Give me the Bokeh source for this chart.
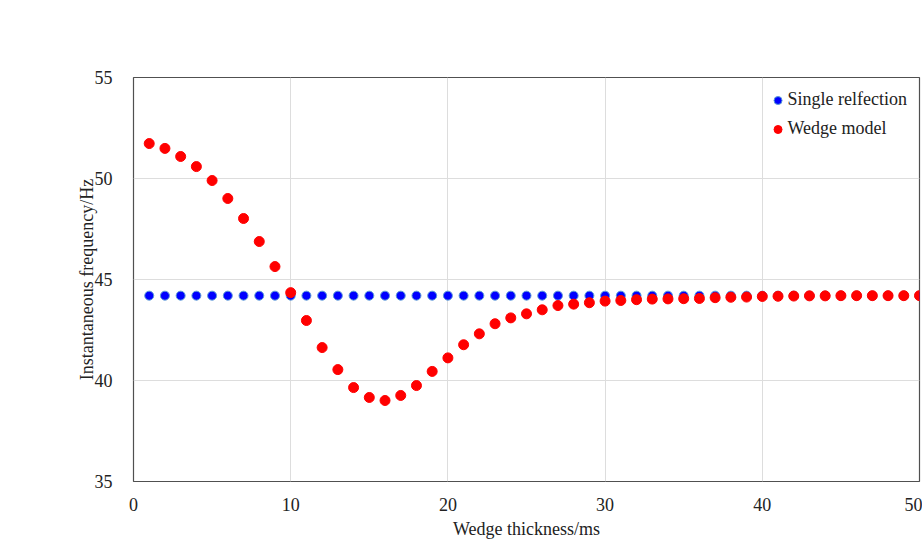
from bokeh.plotting import figure
from bokeh.models import Range1d, FixedTicker
from bokeh.embed import file_html
from bokeh.resources import INLINE

thickness = list(range(1, 51))
single_reflection = [44.2] * 50
wedge_model = [51.73, 51.49, 51.09, 50.59, 49.90, 49.01, 48.02, 46.88, 45.64, 44.35,
               42.97, 41.63, 40.54, 39.65, 39.16, 39.01, 39.26, 39.75, 40.45, 41.12,
               41.77, 42.31, 42.81, 43.10, 43.30, 43.50, 43.71, 43.78, 43.85, 43.93,
               43.96, 44.00, 44.03, 44.04, 44.05, 44.06, 44.10, 44.12, 44.13, 44.16,
               44.17, 44.18, 44.19, 44.19, 44.20, 44.20, 44.20, 44.20, 44.20, 44.20]
x_ticks = [0, 10, 20, 30, 40, 50]
y_ticks = [35, 40, 45, 50, 55]

FONT = "'Liberation Serif', 'Times New Roman', serif"

p = figure(width=922, height=546, output_backend="svg", toolbar_location=None,
           x_range=Range1d(0, 50), y_range=Range1d(35, 55),
           min_border_left=133, min_border_right=3, min_border_top=77, min_border_bottom=65)

p.scatter(thickness, single_reflection, size=9, fill_color="#0000ff", line_color="#5b9bd5",
          line_width=1, legend_label="Single relfection")
p.scatter(thickness, wedge_model, size=10, fill_color="#ff0000", line_color="#ff0000",
          legend_label="Wedge model")

p.outline_line_color = "#505050"
p.outline_line_width = 1.2

for ax in (p.xaxis, p.yaxis):
    ax.axis_line_color = None
    ax.major_tick_line_color = None
    ax.minor_tick_line_color = None
    ax.major_label_text_font = FONT
    ax.major_label_text_font_size = "18px"
    ax.major_label_text_color = "#222222"
    ax.axis_label_text_font = FONT
    ax.axis_label_text_font_size = "18px"
    ax.axis_label_text_font_style = "normal"
    ax.axis_label_text_color = "#222222"

p.xaxis.ticker = FixedTicker(ticks=x_ticks)
p.yaxis.ticker = FixedTicker(ticks=y_ticks)
p.xaxis.axis_label = "Wedge thickness/ms"
p.yaxis.axis_label = "Instantaneous frequency/Hz"
p.xaxis.major_label_standoff = 10
p.yaxis.major_label_standoff = 15
p.xaxis.axis_label_standoff = 5
p.yaxis.axis_label_standoff = -5

p.xgrid.grid_line_color = "#dddddd"
p.ygrid.grid_line_color = "#dddddd"

p.legend.location = "top_right"
p.legend.border_line_color = None
p.legend.background_fill_alpha = 0
p.legend.label_text_font = FONT
p.legend.label_text_font_size = "18px"
p.legend.label_text_color = "#222222"
p.legend.glyph_width = 20
p.legend.glyph_height = 20
p.legend.label_standoff = 0
p.legend.spacing = 8
p.legend.padding = 6
p.legend.margin = 12

open("out.html", "w").write(file_html(p, INLINE))
